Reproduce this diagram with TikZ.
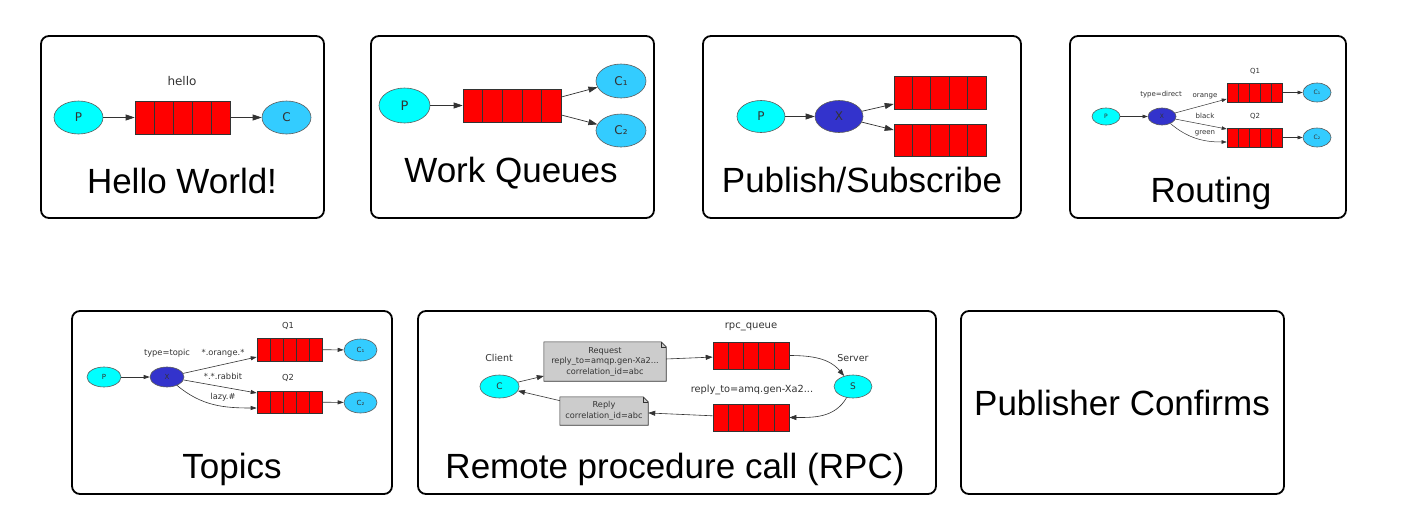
\documentclass[tikz,border=0pt]{standalone}
\usepackage{fontspec}
\setmainfont{Liberation Sans}
\newfontfamily\dv{DejaVu Sans}
\usetikzlibrary{arrows.meta,calc,shapes.geometric,backgrounds}
\definecolor{pcol}{HTML}{00FFFF}
\definecolor{ccol}{HTML}{33CCFF}
\definecolor{xcol}{HTML}{3333CC}
\definecolor{ncol}{HTML}{CCCCCC}
\definecolor{ecol}{HTML}{333333}
\tikzset{
  panel/.style={draw=black, line width=1.8pt, rounded corners=8pt},
  ttl/.style={font=\fontsize{35}{40}\selectfont, inner sep=0pt, anchor=base},
  lbl/.style={font=\dv\fontsize{#1}{#1}\selectfont, inner sep=0pt, text=ecol},
  ell/.style={ellipse, draw=ecol!80, line width=0.6pt, inner sep=0pt, text=ecol},
  pnode/.style={ell, fill=pcol},
  cnode/.style={ell, fill=ccol},
  xnode/.style={ell, fill=xcol, text=black!80},
  queue/.style={draw=ecol, fill=red, line width=0.6pt, inner sep=0pt},
  qline/.style={draw=ecol, line width=0.6pt},
  notebox/.style={inner sep=0pt, align=center, text=ecol},
  notefill/.style={fill=ncol, draw=ecol, line width=0.6pt},
  eA/.style={draw=ecol, line width=0.7pt, -{Triangle[length=9pt,width=6pt]}},
  eB/.style={draw=ecol, line width=0.5pt, -{Triangle[length=5pt,width=3.5pt]}},
  eC/.style={draw=ecol, line width=0.6pt, -{Triangle[length=6pt,width=4pt]}},
  eD/.style={draw=ecol, line width=0.6pt, -{Triangle[length=7pt,width=5pt]}},
}
\newcommand{\qbox}[5]{%
  \node[queue, minimum width=#4pt, minimum height=#5pt] (#1) at (#2,#3) {};
  \foreach \k in {1,2,3,4}
    \draw[qline] ($(#1.south west)!\k/5!(#1.south east)$) -- ($(#1.north west)!\k/5!(#1.north east)$);
}
\newcommand{\notebg}[1]{%
  \begin{pgfonlayer}{background}
  \draw[notefill] (#1.north west) -- ([xshift=-5pt]#1.north east) -- ([yshift=-5pt]#1.north east) -- (#1.south east) -- (#1.south west) -- cycle;
  \draw[ecol, line width=0.5pt] ([xshift=-5pt]#1.north east) -- ([xshift=-5pt,yshift=-5pt]#1.north east) -- ([yshift=-5pt]#1.north east);
  \end{pgfonlayer}}
\begin{document}
\begin{tikzpicture}[x=1pt,y=-1pt]
\useasboundingbox (0,0) rectangle (1404,527);
\begin{pgfonlayer}{background}
\fill[white] (0,0) rectangle (1404,527);
\end{pgfonlayer}

% ---------- Panels ----------
\draw[panel] (41,36) rectangle (324,218);
\draw[panel] (371,36) rectangle (654,218);
\draw[panel] (703,36) rectangle (1021,218);
\draw[panel] (1070,36) rectangle (1346,218);
\draw[panel] (72,311) rectangle (392,494);
\draw[panel] (418,311) rectangle (936,494);
\draw[panel] (961,311) rectangle (1284,494);

% ---------- Hello World ----------
\node[pnode, minimum width=49pt, minimum height=33pt, font=\dv\fontsize{12}{12}\selectfont] (hP) at (78.5,117.5) {P};
\qbox{hQ}{182.5}{117.5}{95}{33}
\node[cnode, minimum width=49pt, minimum height=33pt, font=\dv\fontsize{12}{12}\selectfont] (hC) at (286.5,117.5) {C};
\node[lbl=12] (hlab) at (182,81) {hello};
\draw[eA] (hP) -- (hQ);
\draw[eA] (hQ) -- (hC);
\node[ttl] (t1) at (182,193) {Hello World!};

% ---------- Work Queues ----------
\node[pnode, minimum width=51pt, minimum height=35pt, font=\dv\fontsize{13}{13}\selectfont] (wP) at (404.5,105.5) {P};
\qbox{wQ}{512}{105.5}{98}{33}
\node[cnode, minimum width=50pt, minimum height=34pt, font=\dv\fontsize{12}{12}\selectfont] (wC1) at (621,81) {C₁};
\node[cnode, minimum width=50pt, minimum height=33pt, font=\dv\fontsize{12}{12}\selectfont] (wC2) at (621,130.5) {C₂};
\draw[eA] (wP) -- (wQ);
\draw[eA] ([yshift=8.5pt]wQ.east) -- (wC1);
\draw[eA] ([yshift=-9.5pt]wQ.east) -- (wC2);
\node[ttl] (t2) at (511,182) {Work Queues};

% ---------- Publish/Subscribe ----------
\node[pnode, minimum width=48pt, minimum height=32pt, font=\dv\fontsize{12}{12}\selectfont] (sP) at (761,116.5) {P};
\node[xnode, minimum width=48pt, minimum height=32pt, font=\dv\fontsize{12}{12}\selectfont] (sX) at (839,116.5) {X};
\qbox{sQ1}{940}{92.5}{92}{33}
\qbox{sQ2}{940}{140}{92}{32}
\draw[eA] (sP) -- (sX);
\draw[eA] (sX) -- ([yshift=-11.5pt]sQ1.west);
\draw[eA] (sX) -- ([yshift=10pt]sQ2.west);
\node[ttl] (t3) at (862,192) {Publish/Subscribe};

% ---------- Routing ----------
\node[pnode, minimum width=28pt, minimum height=17pt, font=\dv\fontsize{6}{6}\selectfont] (rP) at (1106,116.5) {P};
\node[xnode, minimum width=28pt, minimum height=17pt, font=\dv\fontsize{6}{6}\selectfont] (rX) at (1162,116.5) {X};
\qbox{rQ1}{1254.5}{92.5}{55}{19}
\qbox{rQ2}{1254.5}{137.5}{55}{19}
\node[cnode, minimum width=28pt, minimum height=19pt, font=\dv\fontsize{6}{6}\selectfont] (rC1) at (1317,92.5) {C₁};
\node[cnode, minimum width=28pt, minimum height=19pt, font=\dv\fontsize{6}{6}\selectfont] (rC2) at (1317,137.5) {C₂};
\node[lbl=7] (rq1l) at (1255,71) {Q1};
\node[lbl=7] (rq2l) at (1255,116) {Q2};
\node[lbl=7] (rtype) at (1161,95) {type=direct};
\node[lbl=7] (rorange) at (1205,96) {orange};
\node[lbl=7] (rblack) at (1205,116) {black};
\node[lbl=7] (rgreen) at (1205,133) {green};
\draw[eB] (rP) -- (rX);
\draw[eB] (rX) -- ([yshift=-6.5pt]rQ1.west);
\draw[eB] (rX) -- ([yshift=8.5pt]rQ2.west);
\draw[eB] (rX) to[out=-40,in=180] ([yshift=-4.5pt]rQ2.west);
\draw[eB] (rQ1) -- (rC1);
\draw[eB] (rQ2) -- (rC2);
\node[ttl] (t4) at (1211,202) {Routing};

% ---------- Topics ----------
\node[pnode, minimum width=34pt, minimum height=20pt, font=\dv\fontsize{7}{7}\selectfont] (tP) at (104,377) {P};
\node[xnode, minimum width=34pt, minimum height=20pt, font=\dv\fontsize{7}{7}\selectfont] (tX) at (167,377) {X};
\qbox{tQ1}{289.5}{349.5}{65}{23}
\qbox{tQ2}{289.5}{402}{65}{22}
\node[cnode, minimum width=33pt, minimum height=22pt, font=\dv\fontsize{7}{7}\selectfont] (tC1) at (360.5,350) {C₁};
\node[cnode, minimum width=33pt, minimum height=21pt, font=\dv\fontsize{7}{7}\selectfont] (tC2) at (360.5,402.5) {C₂};
\node[lbl=8.3] (tq1l) at (288,326) {Q1};
\node[lbl=8.3] (tq2l) at (288,378) {Q2};
\node[lbl=8.3] (ttype) at (167,353) {type=topic};
\node[lbl=8.3] (torange) at (223,353) {*.orange.*};
\node[lbl=8.3] (trabbit) at (223,376) {*.*.rabbit};
\node[lbl=8.3] (tlazy) at (223,397) {lazy.\#};
\draw[eC] (tP) -- (tX);
\draw[eC] (tX) -- ([yshift=-7.5pt]tQ1.west);
\draw[eC] (tX) -- ([yshift=9pt]tQ2.west);
\draw[eC] (tX) to[out=-40,in=180] ([yshift=-6pt]tQ2.west);
\draw[eC] (tQ1) -- (tC1);
\draw[eC] (tQ2) -- (tC2);
\node[ttl] (t5) at (232,478) {Topics};

% ---------- RPC ----------
\node[pnode, minimum width=39pt, minimum height=23pt, font=\dv\fontsize{9}{9}\selectfont] (cC) at (499.5,386.5) {C};
\node[pnode, minimum width=38pt, minimum height=23pt, font=\dv\fontsize{9}{9}\selectfont] (sS) at (853,386.5) {S};
\node[lbl=9.5] (clab) at (499,358) {Client};
\node[lbl=9.5] (slab) at (853,358) {Server};
\node[notebox, minimum width=122pt, minimum height=39pt, font=\dv\fontsize{8.2}{10.5}\selectfont] (req) at (605,361.5) {Request\\reply\_to=amqp.gen-Xa2...\\correlation\_id=abc};
\notebg{req}
\node[notebox, minimum width=88pt, minimum height=28pt, font=\dv\fontsize{8.2}{11}\selectfont] (rep) at (604,411) {Reply\\correlation\_id=abc};
\notebg{rep}
\qbox{rpcQ}{751}{355.5}{76}{27}
\qbox{repQ}{751}{417.5}{76}{27}
\node[lbl=10] (rpcl) at (751,327) {rpc\_queue};
\node[lbl=9.8] (repl) at (752,390) {reply\_to=amq.gen-Xa2...};
\draw[eD] (cC) -- (req);
\draw[eD] (req) -- (rpcQ);
\draw[eD] (rpcQ.east) to[out=0,in=130] (sS);
\draw[eD] (sS) to[out=-120,in=0] (repQ.east);
\draw[eD] (repQ) -- (rep);
\draw[eD] (rep) -- (cC);
\node[ttl] (t6) at (675,478) {Remote procedure call (RPC)};

% ---------- Publisher Confirms ----------
\node[ttl] (t7) at (1122,415) {Publisher Confirms};
\end{tikzpicture}
\end{document}
